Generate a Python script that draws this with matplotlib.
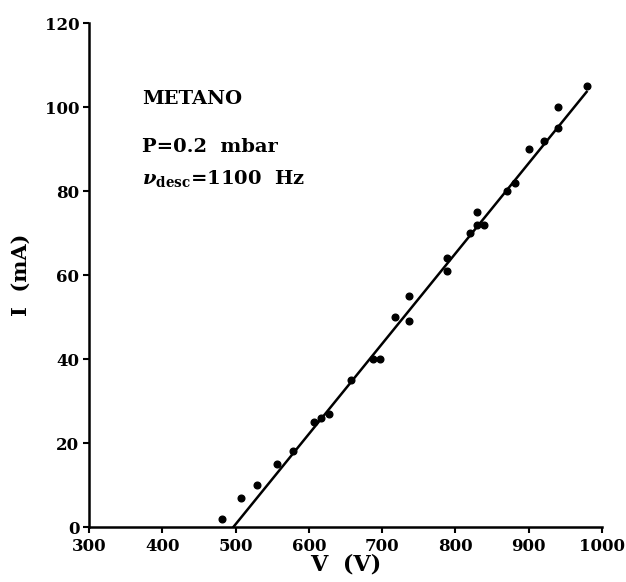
import matplotlib
matplotlib.use("Agg")
import matplotlib.pyplot as plt

# Data
voltage = [481, 508, 529, 557, 579, 607, 617, 627, 657, 688, 697, 718, 737, 737,
           789, 789, 820, 829, 829, 839, 870, 881, 900, 921, 940, 940, 980]
current = [2, 7, 10, 15, 18, 25, 26, 27, 35, 40, 40, 50, 55, 49,
           64, 61, 70, 75, 72, 72, 80, 82, 90, 92, 95, 100, 105]

fit_v = [497, 979]
fit_i = [0, 103.6]

x_ticks = [300, 400, 500, 600, 700, 800, 900, 1000]
y_ticks = [0, 20, 40, 60, 80, 100, 120]

plt.rcParams['font.family'] = ['DejaVu Serif']
plt.rcParams['font.weight'] = 'bold'
plt.rcParams['mathtext.fontset'] = 'dejavuserif'

fig = plt.figure(figsize=(6.26, 5.82), dpi=100)
ax = fig.add_axes([89/626, 1 - 527/582, (602 - 89)/626, (527 - 23)/582])

ax.plot(fit_v, fit_i, color='black', lw=1.8)
ax.plot(voltage, current, 'o', color='black', markersize=4.8)

ax.set_xlim(300, 1000)
ax.set_ylim(0, 120)
ax.set_xticks(x_ticks)
ax.set_yticks(y_ticks)
ax.tick_params(direction='out', length=4, width=1.5, labelsize=12)
ax.tick_params(axis='x', pad=4)
ax.tick_params(axis='y', pad=3)
for lab in ax.get_xticklabels() + ax.get_yticklabels():
    lab.set_fontweight('bold')

for s in ['top', 'right']:
    ax.spines[s].set_visible(False)
for s in ['left', 'bottom']:
    ax.spines[s].set_linewidth(1.8)

ax.set_xlabel('V  (V)', fontsize=16, fontweight='bold', labelpad=-1)
ax.set_ylabel('I  (mA)', fontsize=15, fontweight='bold', labelpad=10)

ax.text(372, 101.9, 'METANO', fontsize=14, fontweight='bold', va='center', ha='left')
ax.text(372, 90.5, 'P=0.2  mbar', fontsize=14, fontweight='bold', va='center', ha='left')
ax.text(372, 83.0, r'$\nu_{\mathbf{desc}}$=1100  Hz', fontsize=14, fontweight='bold',
        va='center', ha='left')

fig.savefig('out.png', dpi=100)
